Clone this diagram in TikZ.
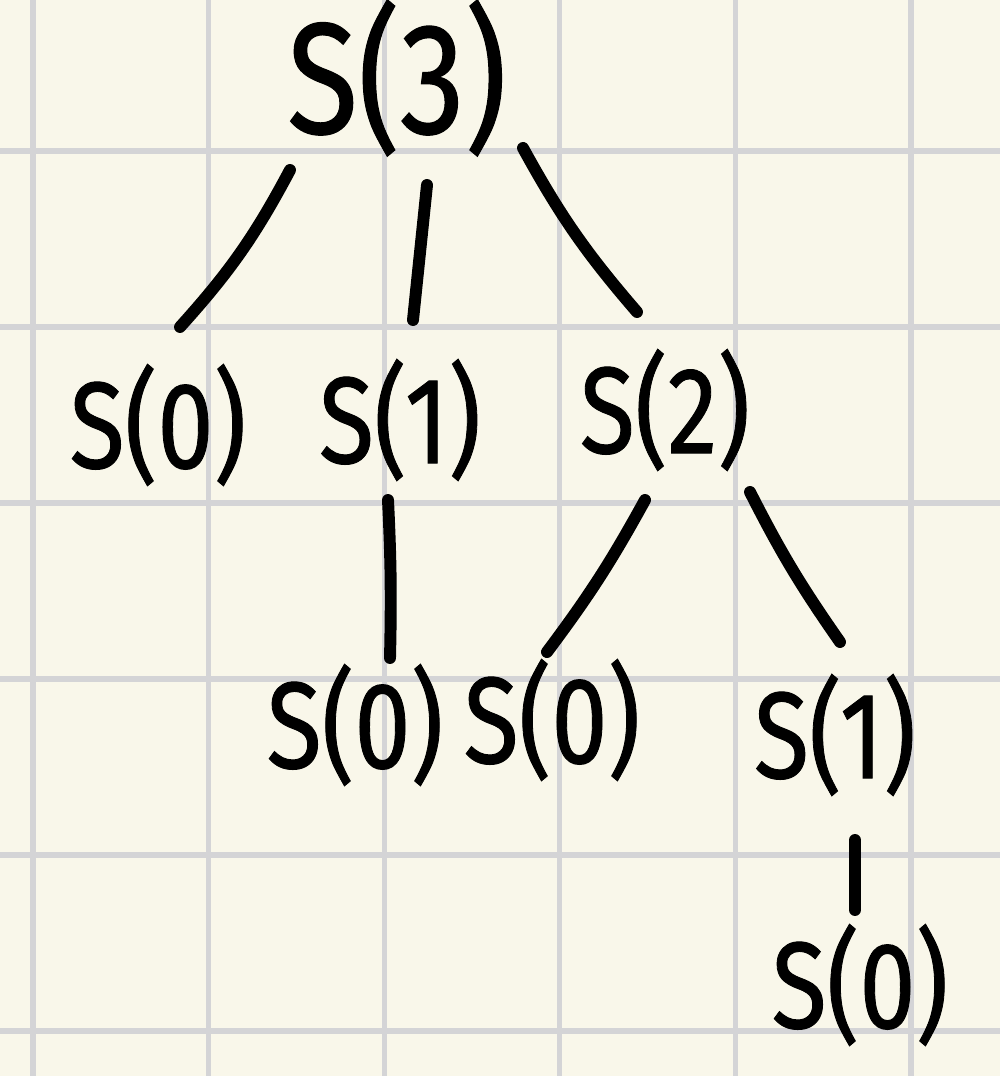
\documentclass[tikz,border=0pt]{standalone}
\usepackage{fontspec}
\setmainfont{Fira Sans}
\newfontfamily\hwfont{Fira Sans}[FakeBold=0.8]
\definecolor{paper}{HTML}{F9F7EA}
\definecolor{gridc}{HTML}{D4D4D6}
\tikzset{
  lbl/.style={inner sep=0pt, font=\hwfont\fontsize{35}{40}\selectfont},
  big/.style={inner sep=0pt, font=\hwfont\fontsize{45}{50}\selectfont},
  edge/.style={line width=3.4pt, line cap=round, black},
}
\newcommand{\hw}[1]{\scalebox{0.82}[1]{#1}}
\begin{document}
\begin{tikzpicture}[x=0.1mm,y=-0.1mm]
\fill[paper] (0,0) rectangle (1000,1076);
\useasboundingbox (0,0) rectangle (1000,1076);
\foreach \v in {33,208.6,384.2,559.8,735.4,911}
  \draw[gridc, line width=1.45pt] (\v,0) -- (\v,1076);
\foreach \h in {151,327,503,679,855,1031}
  \draw[gridc, line width=1.45pt] (0,\h) -- (1000,\h);

\node[big] (s3) at (397,78) {\hw{S(3)}};
\node[lbl] (a0) at (158,425) {\hw{S(0)}};
\node[lbl] (a1) at (400,420) {\hw{S(1)}};
\node[lbl] (a2) at (665,410) {\hw{S(2)}};
\node[lbl] (b0) at (355,725) {\hw{S(0)}};
\node[lbl] (c0) at (552,720) {\hw{S(0)}};
\node[lbl] (c1) at (835,735) {\hw{S(1)}};
\node[lbl] (d0) at (860,985) {\hw{S(0)}};

\draw[edge] ([shift={(-107,92)}]s3.center) to[bend left=7] ([shift={(22,-98)}]a0.center);
\draw[edge] ([shift={(30,107)}]s3.center) -- ([shift={(13,-100)}]a1.center);
\draw[edge] ([shift={(126,70)}]s3.center) to[bend right=6] ([shift={(-28,-98)}]a2.center);
\draw[edge] ([shift={(-12,80)}]a1.center) to[bend left=2] ([shift={(35,-67)}]b0.center);
\draw[edge] ([shift={(-20,90)}]a2.center) to[bend left=4] ([shift={(-5,-68)}]c0.center);
\draw[edge] ([shift={(85,82)}]a2.center) to[bend right=4] ([shift={(5,-93)}]c1.center);
\draw[edge] ([shift={(20,105)}]c1.center) -- ([shift={(-5,-75)}]d0.center);
\end{tikzpicture}
\end{document}
